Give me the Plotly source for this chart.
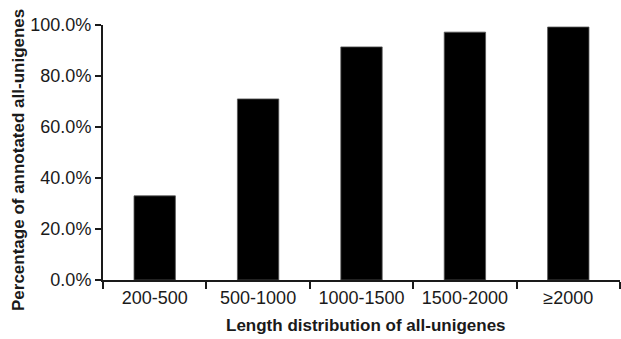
import plotly.graph_objects as go

categories = ["200-500", "500-1000", "1000-1500", "1500-2000", "≥2000"]
percent_annotated = [33.0, 71.0, 91.4, 97.2, 99.2]
y_tick_values = [0, 20, 40, 60, 80, 100]
y_tick_labels = ["0.0%", "20.0%", "40.0%", "60.0%", "80.0%", "100.0%"]

FONT = "Liberation Sans, Arial, sans-serif"
AX = "#1a1a1a"

fig = go.Figure(go.Bar(
    x=categories, y=percent_annotated, width=0.4,
    marker=dict(color="black", line=dict(color="#555", width=0.8)),
))

W, H = 621, 339
L, R, T, B = 103, 1, 25, 59
pw, ph = W - L - R, H - T - B

fig.update_layout(
    width=W, height=H,
    margin=dict(l=L, r=R, t=T, b=B),
    plot_bgcolor="white", paper_bgcolor="white",
    showlegend=False,
    font=dict(family=FONT, size=18, color="#1a1a1a"),
    xaxis=dict(
        type="category", range=[-0.5, 4.5], tickson="boundaries",
        ticks="outside", ticklen=7, tickwidth=2, tickcolor=AX,
        showline=True, linecolor=AX, linewidth=2, showgrid=False,
        tickfont=dict(size=18), zeroline=False,
    ),
    yaxis=dict(
        range=[0, 100], tickvals=y_tick_values, ticktext=y_tick_labels,
        ticks="outside", ticklen=6, tickwidth=2, tickcolor=AX,
        showline=True, linecolor=AX, linewidth=2, showgrid=False,
        zeroline=False, tickfont=dict(size=18),
    ),
    annotations=[
        dict(text="<b>Length distribution of all-unigenes</b>", xref="paper", yref="paper",
             x=(366 - L) / pw, y=(T + ph - 325) / ph, xanchor="center", yanchor="middle",
             showarrow=False, font=dict(size=17)),
        dict(text="<b>Percentage of annotated all-unigenes</b>", xref="paper", yref="paper",
             x=(18 - L) / pw, y=(T + ph - 160) / ph, xanchor="center", yanchor="middle",
             textangle=-90, showarrow=False, font=dict(size=17)),
    ],
)

fig.write_html("out.html", config={"displayModeBar": False},
               post_script="document.body.style.margin='0';document.body.style.padding='0';")
